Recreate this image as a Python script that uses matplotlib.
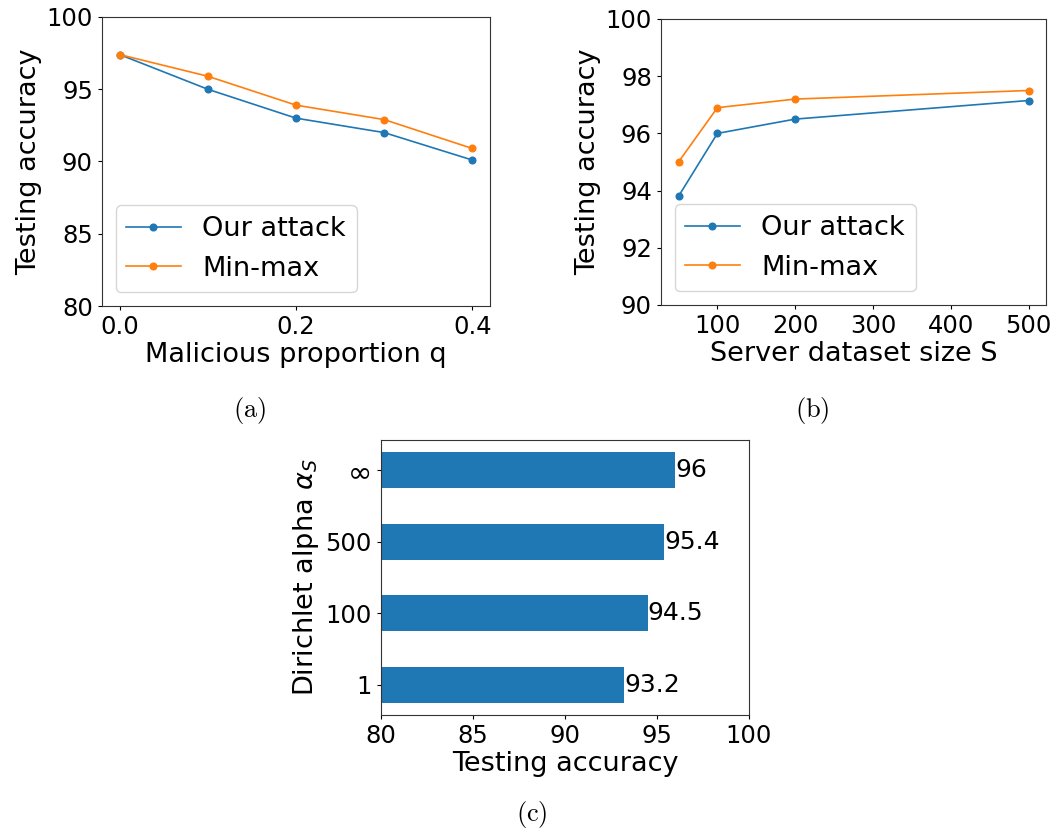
import numpy as np
import matplotlib
matplotlib.use("Agg")
import matplotlib.pyplot as plt

# (a) malicious proportion
q_vals = [0.0, 0.1, 0.2, 0.3, 0.4]
acc_ours_q = [97.4, 95.0, 93.0, 92.0, 90.1]
acc_minmax_q = [97.4, 95.9, 93.9, 92.9, 90.9]

# (b) server dataset size
s_vals = [50, 100, 200, 500]
acc_ours_s = [93.8, 96.0, 96.5, 97.15]
acc_minmax_s = [95.0, 96.9, 97.2, 97.5]

# (c) dirichlet alpha
alpha_labels = ["1", "100", "500", "\u221e"]
acc_alpha = [93.2, 94.5, 95.4, 96]

W, H = 1057, 834
fig = plt.figure(figsize=(W / 100, H / 100), dpi=100)

def box(l, t, r, b):
    return [l / W, 1 - b / H, (r - l) / W, (b - t) / H]

lw = 1.2
ms = 4.8
tick_fs = 17.5
lab_fs = 19.5

ax1 = fig.add_axes(box(102, 17, 490, 306))
ax1.plot(q_vals, acc_ours_q, marker='o', lw=lw, ms=ms, color='#1f77b4', label='Our attack')
ax1.plot(q_vals, acc_minmax_q, marker='o', lw=lw, ms=ms, color='#ff7f0e', label='Min-max')
ax1.set_ylim(80, 100)
ax1.set_xticks([0.0, 0.2, 0.4])
ax1.set_yticks([80, 85, 90, 95, 100])
ax1.set_xlabel("Malicious proportion q", fontsize=lab_fs, labelpad=2)
ax1.set_ylabel("Testing accuracy", fontsize=lab_fs, labelpad=3)
ax1.legend(loc='lower left', fontsize=lab_fs, handlelength=2.0)

ax2 = fig.add_axes(box(661, 19, 1046, 305))
ax2.plot(s_vals, acc_ours_s, marker='o', lw=lw, ms=ms, color='#1f77b4', label='Our attack')
ax2.plot(s_vals, acc_minmax_s, marker='o', lw=lw, ms=ms, color='#ff7f0e', label='Min-max')
ax2.set_ylim(90, 100)
ax2.set_xticks([100, 200, 300, 400, 500])
ax2.set_yticks([90, 92, 94, 96, 98, 100])
ax2.set_xlabel("Server dataset size S", fontsize=lab_fs, labelpad=2)
ax2.set_ylabel("Testing accuracy", fontsize=lab_fs, labelpad=3)
ax2.legend(loc='lower left', fontsize=lab_fs, handlelength=2.0)

ax3 = fig.add_axes(box(381, 440, 749, 715))
ypos = np.arange(len(alpha_labels))
bars = ax3.barh(ypos, acc_alpha, height=0.5, color='#1f77b4')
ax3.set_yticks(ypos)
ax3.set_yticklabels(alpha_labels)
ax3.set_xlim(80, 100)
ax3.set_xticks([80, 85, 90, 95, 100])
ax3.bar_label(bars, labels=[f"{v:g}" for v in acc_alpha], fontsize=18, padding=0)
ax3.set_xlabel("Testing accuracy", fontsize=lab_fs, labelpad=2)
ax3.set_ylabel(r"Dirichlet alpha $\alpha_S$", fontsize=lab_fs, labelpad=3)

for ax in (ax1, ax2, ax3):
    ax.tick_params(labelsize=tick_fs, length=3, width=0.8)
    for sp in ax.spines.values():
        sp.set_linewidth(0.8)
        sp.set_color('#333333')

# the infinity tick glyph is drawn larger than the digits
ax3.get_yticklabels()[-1].set_fontsize(21)

for x, y, s in [(250, 410, "(a)"), (812, 410, "(b)"), (532, 815, "(c)")]:
    fig.text(x / W, 1 - y / H, r"$\mathrm{%s}$" % s, fontsize=19,
             ha='center', va='center', math_fontfamily='cm')

fig.savefig("out.png", dpi=100)
